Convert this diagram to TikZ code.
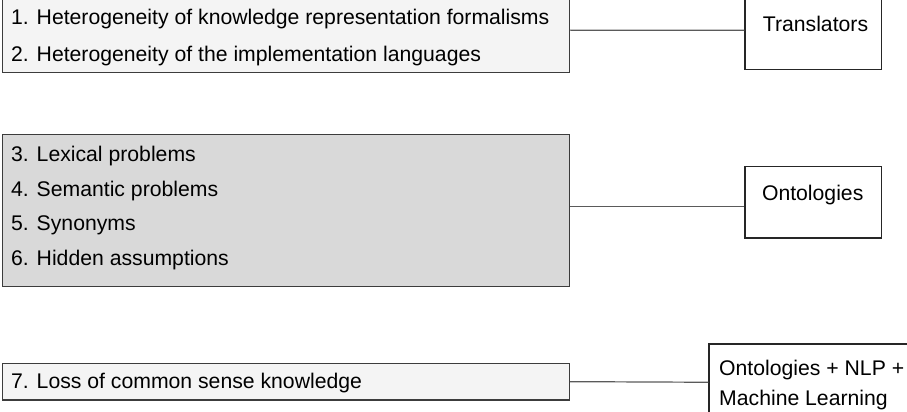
\documentclass[tikz,border=0pt]{standalone}
\usepackage{fontspec}
\setmainfont{Liberation Sans}
\begin{document}
\begin{tikzpicture}[x=1pt,y=-1pt,
  every node/.style={font=\fontsize{21.2}{25}\selectfont, text=black},
  problem/.style={draw=boxline, line width=1.3pt, inner sep=0pt, anchor=north west},
  light/.style={problem, fill=lightfill},
  dark/.style={problem, fill=darkfill},
  remedy/.style={draw=black!85, line width=1.2pt, fill=white, inner sep=0pt, anchor=north west},
  item/.style={anchor=base west, inner sep=0pt},
  link/.style={draw=linkgray, line width=1.2pt}]
\definecolor{boxline}{HTML}{3C3C3C}
\definecolor{lightfill}{HTML}{F4F4F4}
\definecolor{darkfill}{HTML}{D9D9D9}
\definecolor{linkgray}{HTML}{5A5A5A}
\useasboundingbox (0,0) rectangle (907,412);
\clip (0,0) rectangle (907,412);

% problem groups on the left
\node[light, minimum width=567pt, minimum height=85pt] (p1) at (1.5,-13) {};
\node[dark,  minimum width=567pt, minimum height=151.7pt] (p2) at (1.5,134) {};
\node[light, minimum width=567pt, minimum height=36.6pt] (p3) at (1.5,362.7) {};

\node[item] (t1) at (11,25)  {1. Heterogeneity of knowledge representation formalisms};
\node[item] (t2) at (11,61.5)  {2. Heterogeneity of the implementation languages};
\node[item] (t3) at (11,161.7) {3. Lexical problems};
\node[item] (t4) at (11,196.7) {4. Semantic problems};
\node[item] (t5) at (11,230.5) {5. Synonyms};
\node[item] (t6) at (11,265) {6. Hidden assumptions};
\node[item] (t7) at (11,388) {7. Loss of common sense knowledge};

% remedies on the right
\node[remedy, minimum width=136.7pt, minimum height=79.3pt] (tr) at (744.3,-10) {};
\node[remedy, minimum width=136.5pt, minimum height=71.6pt] (on) at (744.3,165.7) {};
\node[remedy, minimum width=220pt, minimum height=76.7pt] (onm) at (708.3,343.3) {};

\node[anchor=base, inner sep=0pt] (trl) at (815.5,32) {Translators};
\node[anchor=base, inner sep=0pt] (onl) at (812.7,200) {Ontologies};
\node[item] (onm1) at (719,375) {Ontologies + NLP +};
\node[item] (onm2) at (719,405) {Machine Learning};

% connectors
\draw[link] (p1.east) -- (tr.west);
\draw[link] ([yshift=-4.2pt]on.west) -- ([yshift=-4.2pt]on.west -| p2.east);
\draw[link] (p3.east) -- (onm.west);
\end{tikzpicture}
\end{document}
